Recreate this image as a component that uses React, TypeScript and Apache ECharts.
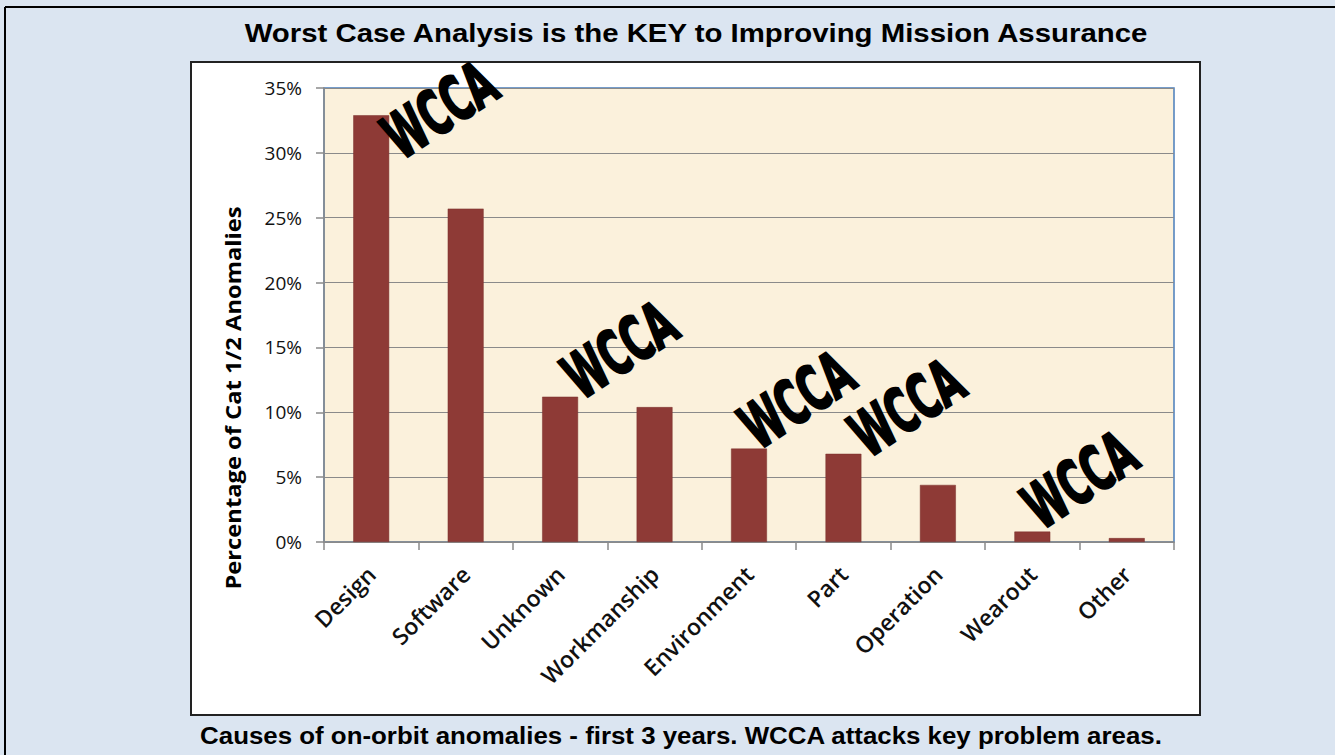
import React, { useEffect, useRef } from "react";
import * as echarts from "echarts";

const categories = ["Design", "Software", "Unknown", "Workmanship", "Environment", "Part", "Operation", "Wearout", "Other"];
const percentages = [32.9, 25.7, 11.2, 10.4, 7.2, 6.8, 4.4, 0.8, 0.3];
const yTicks = { min: 0, max: 35, interval: 5 };
// WCCA annotation anchors: [position along categories (0..9), percent]
const wccaMarks = [
  [1.228, 33.3],
  [3.134, 14.8],
  [5.008, 10.95],
  [6.173, 10.33],
  [8.005, 4.78],
];
const wccaText = "WCCA";
const titleText = "Worst Case Analysis is the KEY to Improving Mission Assurance";
const captionText = "Causes of on-orbit anomalies - first 3 years. WCCA attacks key problem areas.";
const yAxisName = "Percentage of Cat 1/2 Anomalies";

export default function App() {
  const ref = useRef<HTMLDivElement>(null);
  useEffect(() => {
    if (!ref.current) return;
    const chart = echarts.init(ref.current, null, { renderer: "svg" });
    const baseGraphic: any[] = [
      { id: "topLine", type: "line", shape: { x1: 5, y1: 7, x2: 1335, y2: 7 }, style: { stroke: "#000", lineWidth: 2 }, z: -10 },
      { id: "leftLine", type: "line", shape: { x1: 5, y1: 7, x2: 5, y2: 755 }, style: { stroke: "#000", lineWidth: 2 }, z: -10 },
      { id: "box", type: "rect", shape: { x: 191, y: 62, width: 1009, height: 653 }, style: { fill: "#fff", stroke: "#222", lineWidth: 2 }, z: -10 },
      {
        id: "title", type: "text", x: 696, y: 33, scaleX: 1.176, z: 10,
        style: { text: titleText, font: "bold 25px 'Liberation Sans', Arial, sans-serif", fill: "#000", textAlign: "center", textVerticalAlign: "middle" },
      },
      {
        id: "caption", type: "text", x: 681, y: 735, scaleX: 1.078, z: 10,
        style: { text: captionText, font: "bold 24px 'Liberation Sans', Arial, sans-serif", fill: "#000", textAlign: "center", textVerticalAlign: "middle" },
      },
      {
        id: "yname", type: "text", x: 233, y: 398, rotation: Math.PI / 2, scaleX: 1.13, z: 10,
        style: { text: yAxisName, font: "bold 21px 'Open Sans', sans-serif", fill: "#000", textAlign: "center", textVerticalAlign: "middle" },
      },
    ];
    const option: any = {
      animation: false,
      backgroundColor: "#dbe5f1",
      graphic: baseGraphic,
      grid: {
        left: 324, top: 88, width: 850, height: 454,
        show: true, backgroundColor: "#fbf1dc", borderColor: "#4a7ebb", borderWidth: 1.5,
      },
      xAxis: [
        {
          type: "category", data: categories,
          axisLine: { lineStyle: { color: "#8a8a8a", width: 1.5 } },
          axisTick: { show: true, length: 8, lineStyle: { color: "#8a8a8a", width: 1.5 } },
          axisLabel: { rotate: 45, margin: 28, fontSize: 23, fontWeight: 600, fontFamily: "Open Sans", color: "#111" },
        },
        { type: "value", min: 0, max: 9, show: false },
      ],
      yAxis: {
        type: "value", min: yTicks.min, max: yTicks.max, interval: yTicks.interval,
        axisLine: { show: true, lineStyle: { color: "#8a8a8a", width: 1.5 } },
        axisTick: { show: true, length: 8, lineStyle: { color: "#8a8a8a", width: 1.5 } },
        axisLabel: { formatter: "{value}%", margin: 22, fontSize: 19, fontFamily: "Open Sans", color: "#111" },
        splitLine: { lineStyle: { color: "#8a8a8a", width: 1.2 } },
      },
      series: [
        {
          type: "bar", data: percentages, barWidth: "38%",
          itemStyle: { color: "#8e3a36", borderColor: "#7a302d", borderWidth: 0.5 },
        },
        {
          type: "scatter", xAxisIndex: 1, data: wccaMarks, symbolSize: 0, silent: true,
        },
      ],
    };
    chart.setOption(option);
    const wccaGraphic = wccaMarks.map((m, i) => {
      const p = chart.convertToPixel({ seriesIndex: 1 }, m) as number[];
      return {
        id: "wcca" + i, type: "text", x: p[0], y: p[1], rotation: (33 * Math.PI) / 180, scaleX: 0.58, z: 30,
        style: {
          text: wccaText, font: "bold 62px 'DejaVu Sans', sans-serif", fill: "#000",
          stroke: "#000", lineWidth: 2.5, textAlign: "center", textVerticalAlign: "middle",
        },
      };
    });
    chart.setOption({ graphic: [...baseGraphic, ...wccaGraphic] });
    return () => chart.dispose();
  }, []);
  return <div ref={ref} style={{ position: "fixed", left: 0, top: 0, width: 1335, height: 755 }} />;
}
